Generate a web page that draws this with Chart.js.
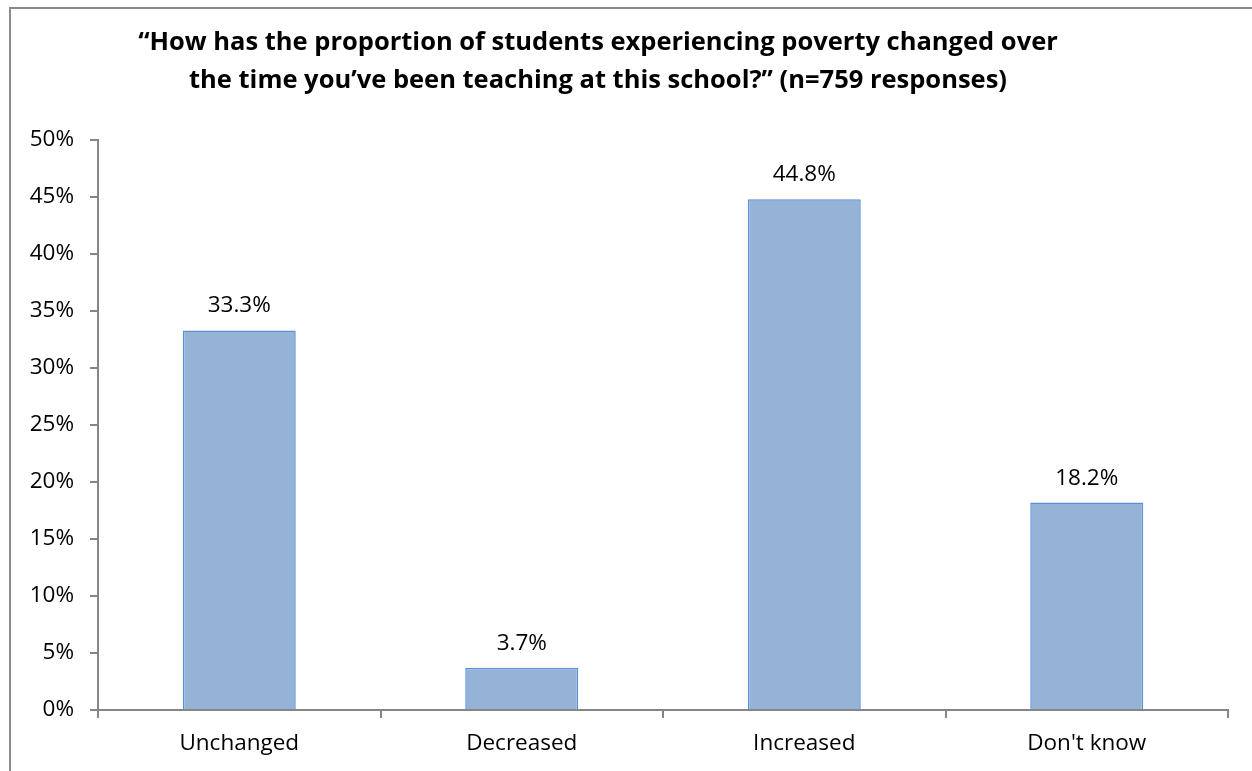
<!DOCTYPE html>
<html>
<head>
<meta charset="utf-8">
<script src="https://cdn.jsdelivr.net/npm/chart.js@4/dist/chart.umd.min.js"></script>
<style>
html,body{margin:0;padding:0;background:#fff;}
#wrap{position:absolute;left:0;top:0;width:1252px;height:771px;}
</style>
</head>
<body>
<div id="wrap"><canvas id="c" width="1252" height="771"></canvas></div>
<script>
const categories = ["Unchanged", "Decreased", "Increased", "Don't know"];
const values = [33.3, 3.7, 44.8, 18.2];
const valueLabels = ["33.3%", "3.7%", "44.8%", "18.2%"];
const titleLines = ["\u201CHow has the proportion of students experiencing poverty changed over", "the time you\u2019ve been teaching at this school?\u201D (n=759 responses)"];
const yMin = 0, yMax = 50, yStep = 5;

const FONT = "'Open Sans', Lato, sans-serif";
const AXIS = '#868686';

const framePlugin = {
  id: 'frame',
  beforeDraw(chart) {
    const ctx = chart.ctx;
    ctx.save();
    ctx.fillStyle = '#fff';
    ctx.fillRect(0, 0, chart.width, chart.height);
    ctx.strokeStyle = '#8a8a8a';
    ctx.lineWidth = 2;
    ctx.beginPath();
    ctx.moveTo(10, chart.height + 2);
    ctx.lineTo(10, 8);
    ctx.lineTo(chart.width + 2, 8);
    ctx.stroke();
    ctx.restore();
  }
};

const titlePlugin = {
  id: 'titleText',
  afterDraw(chart) {
    const ctx = chart.ctx;
    ctx.save();
    ctx.fillStyle = '#000';
    ctx.font = "bold 25.5px " + FONT;
    ctx.textAlign = 'center';
    ctx.textBaseline = 'alphabetic';
    ctx.fillText(titleLines[0], 598, 50);
    ctx.fillText(titleLines[1], 598, 88);
    ctx.restore();
  }
};

const labelPlugin = {
  id: 'valueLabels',
  afterDatasetsDraw(chart) {
    const ctx = chart.ctx;
    const meta = chart.getDatasetMeta(0);
    ctx.save();
    ctx.fillStyle = '#000';
    ctx.font = "22.5px " + FONT;
    ctx.textAlign = 'center';
    ctx.textBaseline = 'alphabetic';
    meta.data.forEach((bar, i) => {
      ctx.fillText(valueLabels[i], bar.x, bar.y - 18);
    });
    ctx.restore();
  }
};

new Chart(document.getElementById('c'), {
  type: 'bar',
  data: {
    labels: categories,
    datasets: [{
      data: values,
      backgroundColor: '#95b3d7',
      borderColor: '#5b8fd6',
      borderWidth: 1.5,
      barPercentage: 0.4,
      categoryPercentage: 1.0
    }]
  },
  options: {
    responsive: false,
    animation: false,
    layout: { padding: { top: 140, right: 24, left: 0, bottom: 0 } },
    plugins: { legend: { display: false }, tooltip: { enabled: false }, title: { display: false } },
    scales: {
      x: {
        offset: true,
        grid: { display: true, offset: true, drawOnChartArea: false, drawTicks: true, tickLength: 8, color: AXIS, lineWidth: 2 },
        border: { display: true, color: AXIS, width: 2 },
        ticks: { color: '#000', font: { family: FONT, size: 22.5 }, padding: 12, maxRotation: 0 },
        afterFit(scale) { scale.height = 61; }
      },
      y: {
        min: yMin, max: yMax,
        grid: { display: true, drawOnChartArea: false, drawTicks: true, tickLength: 8, color: AXIS, lineWidth: 2 },
        border: { display: true, color: AXIS, width: 2 },
        ticks: {
          stepSize: yStep, color: '#000', font: { family: FONT, size: 22.5 }, padding: 16,
          callback: (v) => v + '%'
        },
        afterFit(scale) { scale.width = 98; }
      }
    }
  },
  plugins: [framePlugin, titlePlugin, labelPlugin]
});
</script>
</body>
</html>
